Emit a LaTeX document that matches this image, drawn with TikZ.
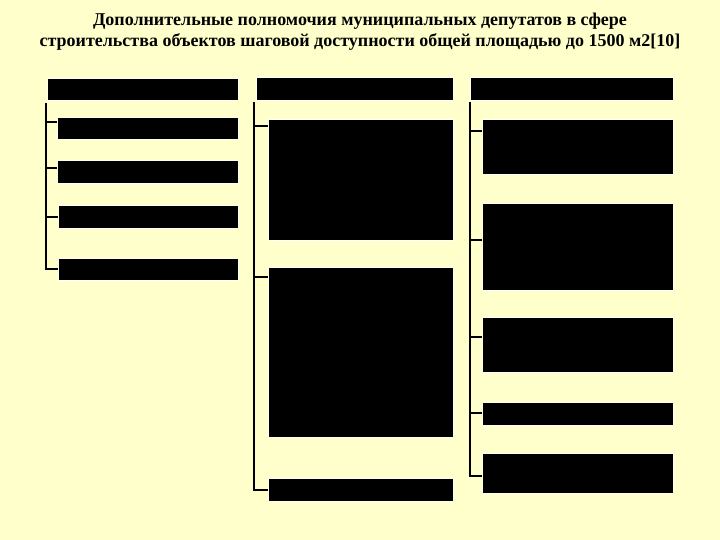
\documentclass[tikz,border=0pt]{standalone}
\usepackage{fontspec}
\setmainfont{Liberation Serif}
\definecolor{bg}{RGB}{255,255,204}
\definecolor{halo}{RGB}{255,255,240}
\begin{document}
\begin{tikzpicture}[x=1pt,y=-1pt,
  blk/.style={fill=black, draw=halo, line width=1.2pt, inner sep=0pt, anchor=north west},
  conn/.style={line width=1.3pt, draw=black}]
\fill[bg] (0,0) rectangle (720,540);
\useasboundingbox (0,0) rectangle (720,540);
\node[align=center, font=\bfseries\fontsize{18}{21}\selectfont] (title) at (360,32)
  {Дополнительные полномочия муниципальных депутатов в сфере\\
   строительства объектов шаговой доступности общей площадью до 1500 м2[10]};
% column 1
\node[blk, minimum width=191pt, minimum height=22pt] (h1) at (47,78) {};
\node[blk, minimum width=181pt, minimum height=22pt] (b11) at (57,117) {};
\node[blk, minimum width=181pt, minimum height=23pt] (b12) at (57,160) {};
\node[blk, minimum width=180pt, minimum height=23pt] (b13) at (58,205) {};
\node[blk, minimum width=180pt, minimum height=22pt] (b14) at (58,258) {};
% column 2
\node[blk, minimum width=197pt, minimum height=23pt] (h2) at (256,77) {};
\node[blk, minimum width=185pt, minimum height=121pt] (b21) at (268,119) {};
\node[blk, minimum width=185pt, minimum height=170pt] (b22) at (268,267) {};
\node[blk, minimum width=185pt, minimum height=23pt] (b23) at (268,478) {};
% column 3
\node[blk, minimum width=203pt, minimum height=23pt] (h3) at (470,77) {};
\node[blk, minimum width=191pt, minimum height=55pt] (b31) at (482,119) {};
\node[blk, minimum width=191pt, minimum height=87pt] (b32) at (482,203) {};
\node[blk, minimum width=191pt, minimum height=55pt] (b33) at (482,317) {};
\node[blk, minimum width=191pt, minimum height=23pt] (b34) at (482,402) {};
\node[blk, minimum width=191pt, minimum height=40pt] (b35) at (482,453) {};
% connectors column 1
\draw[conn] ([xshift=-1pt,yshift=-2pt]h1.south west) |- ([yshift=-11pt]b14.north west);
\draw[conn] ([yshift=-5pt]b11.north west) -- ++(-11,0);
\draw[conn] ([yshift=-8pt]b12.north west) -- ++(-11,0);
\draw[conn] ([yshift=-12pt]b13.north west) -- ++(-12,0);
% connectors column 2
\draw[conn] ([xshift=-2pt,yshift=-1pt]h2.south west) |- ([yshift=-12pt]b23.north west);
\draw[conn] ([yshift=-7pt]b21.north west) -- ++(-14,0);
\draw[conn] ([yshift=-10pt]b22.north west) -- ++(-14,0);
% connectors column 3
\draw[conn] ([yshift=-1pt]h3.south west) |- ([yshift=-23pt]b35.north west);
\draw[conn] ([yshift=-12pt]b31.north west) -- ++(-12,0);
\draw[conn] ([yshift=-37pt]b32.north west) -- ++(-12,0);
\draw[conn] ([yshift=-20pt]b33.north west) -- ++(-12,0);
\draw[conn] ([yshift=-11pt]b34.north west) -- ++(-12,0);
\end{tikzpicture}
\end{document}
